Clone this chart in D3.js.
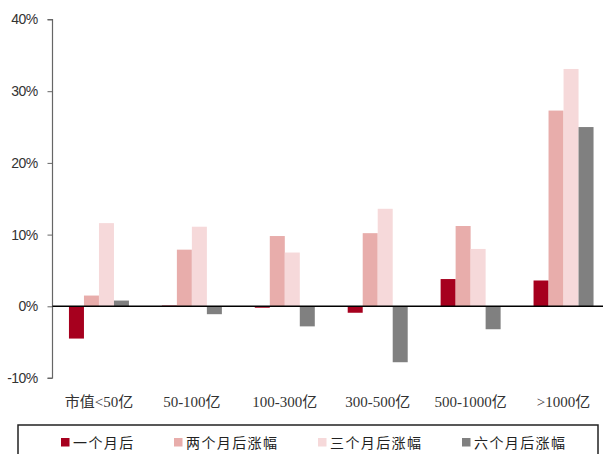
<!DOCTYPE html>
<html>
<head>
<meta charset="utf-8">
<script src="https://cdn.jsdelivr.net/npm/d3@7"></script>
<style>
  html, body { margin: 0; padding: 0; background: #fff; }
  svg { display: block; }
</style>
</head>
<body>
<svg id="chart" width="603" height="454"></svg>
<script>
// Market-cap buckets
const categories = ["市值<50亿", "50-100亿", "100-300亿", "300-500亿", "500-1000亿", ">1000亿"];
// Series names
const seriesNames = ["一个月后", "两个月后涨幅", "三个月后涨幅", "六个月后涨幅"];
// Returns (%) per bucket for each horizon
const oneMonth   = [-4.5, 0.1, -0.2, -0.9, 3.8, 3.6];
const twoMonth   = [1.5, 7.9, 9.8, 10.2, 11.2, 27.3];
const threeMonth = [11.6, 11.1, 7.5, 13.6, 8.0, 33.1];
const sixMonth   = [0.8, -1.1, -2.8, -7.8, -3.2, 25.0];
const seriesValues = [oneMonth, twoMonth, threeMonth, sixMonth];
const yTicks = [-10, 0, 10, 20, 30, 40];
const colors = ["#A6001E", "#E8ADAB", "#F6D9DA", "#808080"];

const svg = d3.select("#chart");
const plotLeft = 52.5, plotRight = 610, plotTop = 19.5, plotBottom = 378;

const x0 = d3.scaleBand().domain(categories).range([plotLeft, plotRight]).padding(0);
const x1 = d3.scaleBand().domain(d3.range(seriesNames.length)).range([0, 60]).padding(0);
const y = d3.scaleLinear().domain([-10, 40]).range([plotBottom, plotTop]);

// Bars
const groups = svg.append("g").selectAll("g")
  .data(categories)
  .join("g")
  .attr("transform", d => `translate(${x0(d) + x0.bandwidth() / 2 - 30},0)`);

groups.selectAll("rect")
  .data((d, i) => seriesValues.map((s, k) => ({ k, v: s[i] })))
  .join("rect")
  .attr("x", d => x1(d.k))
  .attr("width", x1.bandwidth())
  .attr("y", d => y(Math.max(0, d.v)))
  .attr("height", d => Math.abs(y(d.v) - y(0)))
  .attr("fill", d => colors[d.k]);

// Y axis
const yAxis = d3.axisLeft(y).tickValues(yTicks).tickSize(5).tickPadding(10)
  .tickFormat(d => d + "%");
const ya = svg.append("g").attr("transform", `translate(${plotLeft},0)`).call(yAxis);
ya.select(".domain").attr("stroke", "#666").attr("stroke-width", 1.2).attr("d", `M-5,${y(40)}H0V${y(-10)}H-5`);
ya.selectAll(".tick line").attr("stroke", "#666");
ya.selectAll(".tick text")
  .attr("fill", "#333")
  .style("font-family", "'Liberation Sans', Arial, sans-serif")
  .style("font-size", "14px")
  .style("letter-spacing", "-0.6px");

// Zero line
svg.append("line")
  .attr("x1", plotLeft).attr("x2", 603)
  .attr("y1", y(0)).attr("y2", y(0))
  .attr("stroke", "#000").attr("stroke-width", 1.5);

// Category labels
svg.append("g").selectAll("text")
  .data(categories)
  .join("text")
  .attr("x", d => x0(d) + x0.bandwidth() / 2)
  .attr("y", 407)
  .attr("text-anchor", "middle")
  .attr("fill", "#333")
  .style("font-family", "'Liberation Serif', 'Noto Sans CJK SC', serif")
  .style("font-size", "15px")
  .text(d => d);

// Legend box
svg.append("rect")
  .attr("x", 18).attr("y", 425)
  .attr("width", 580).attr("height", 40)
  .attr("fill", "none").attr("stroke", "#222").attr("stroke-width", 1.5);

const legendX = [61, 174, 318, 462];
const legend = svg.append("g").selectAll("g")
  .data(seriesNames)
  .join("g")
  .attr("transform", (d, i) => `translate(${legendX[i]},0)`);
legend.append("rect")
  .attr("x", 0).attr("y", 438).attr("width", 8.5).attr("height", 8.5)
  .attr("fill", (d, i) => colors[i]);
legend.append("text")
  .attr("x", 12).attr("y", 447.5)
  .attr("fill", "#222")
  .style("font-family", "'Noto Sans CJK SC', sans-serif")
  .style("font-size", "14px")
  .style("letter-spacing", "1.4px")
  .text(d => d);
</script>
</body>
</html>
